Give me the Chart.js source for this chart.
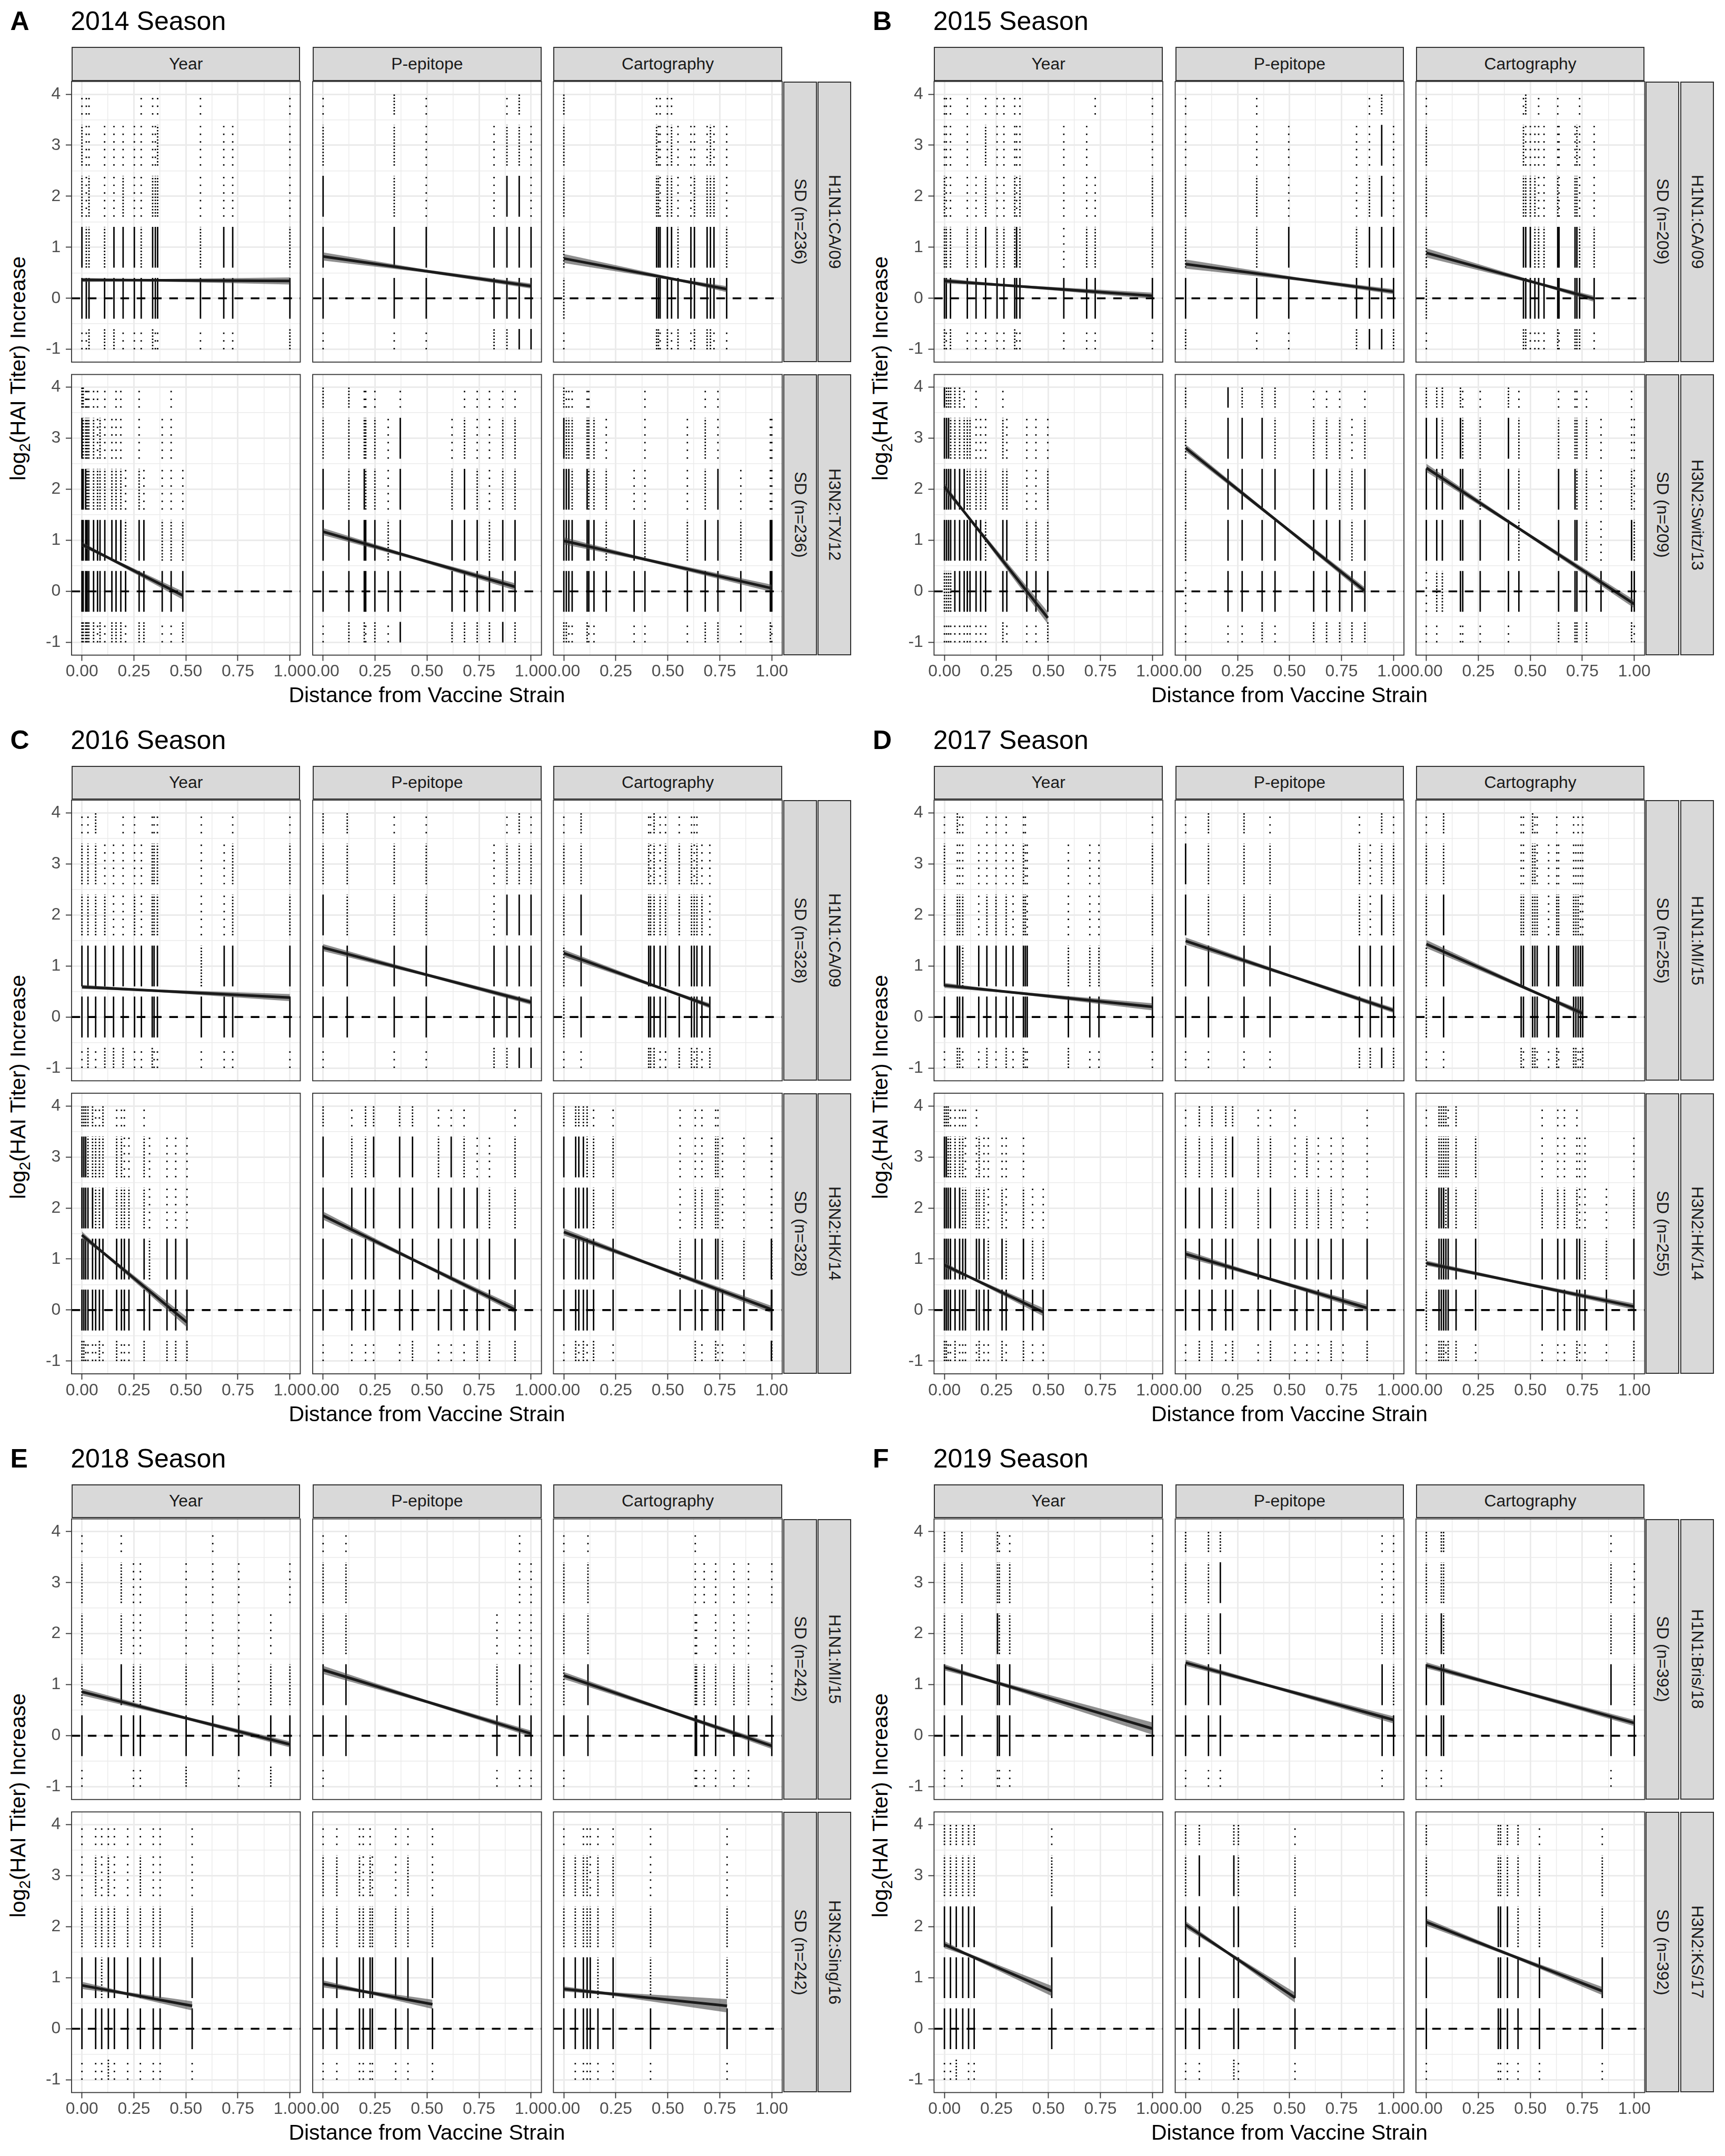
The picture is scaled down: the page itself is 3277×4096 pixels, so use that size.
<!DOCTYPE html>
<html>
<head>
<meta charset="utf-8">
<script src="https://cdn.jsdelivr.net/npm/chart.js@4.4.1/dist/chart.umd.min.js"></script>
<style>
html,body{margin:0;padding:0;background:#ffffff;}
#root{position:relative;width:3277px;height:4096px;overflow:hidden;background:#ffffff;font-family:"Liberation Sans",Arial,Helvetica,sans-serif;}
.abs{position:absolute;white-space:nowrap;}
.strip{position:absolute;box-sizing:border-box;background:#d9d9d9;border:2px solid #333333;display:flex;align-items:center;justify-content:center;color:#1a1a1a;white-space:nowrap;}
.vstrip{writing-mode:vertical-rl;}
canvas{position:absolute;}
</style>
</head>
<body>
<div id="root"></div>
<script>
// ---------------- DATA ----------------
// Each facet: list of [distance from vaccine strain, density code per HAI level band]
// density code order = levels [-1, 0, 1, 2, 3, 4]; 0 none, 1 sparse, 2 moderate, 3 dense
const panelLetters = ["A", "B", "C", "D", "E", "F"];
const seasons = ["2014 Season", "2015 Season", "2016 Season", "2017 Season", "2018 Season", "2019 Season"];
const sampleN = [236, 209, 328, 255, 242, 392];
const h1Strains = ["H1N1:CA/09", "H1N1:CA/09", "H1N1:CA/09", "H1N1:MI/15", "H1N1:MI/15", "H1N1:Bris/18"];
const h3Strains = ["H3N2:TX/12", "H3N2:Switz/13", "H3N2:HK/14", "H3N2:HK/14", "H3N2:Sing/16", "H3N2:KS/17"];
const methods = ["Year", "P-epitope", "Cartography"];
const xTicks = [0, 0.25, 0.5, 0.75, 1];
const xTickLabels = ["0.00", "0.25", "0.50", "0.75", "1.00"];
const yTicks = [-1, 0, 1, 2, 3, 4];
const yTickLabels = ["-1", "0", "1", "2", "3", "4"];
const levelLow = [-1.0, -0.4, 0.6, 1.6, 2.6, 3.6];
const levelHigh = [-0.6, 0.4, 1.4, 2.4, 3.4, 4.0];
const refLineY = 0;

const A_h1_year = [[0,"133221"],[0.021,"132111"],[0.034,"232211"],[0.109,"232110"],[0.154,"233110"],[0.198,"133210"],[0.252,"133110"],[0.285,"132111"],[0.340,"233211"],[0.353,"133210"],[0.364,"133221"],[0.570,"132111"],[0.682,"133110"],[0.725,"133110"],[1.0,"232111"]];
const A_h1_pep = [[0,"133321"],[0.342,"133222"],[0.496,"133111"],[0.822,"233110"],[0.884,"233321"],[0.943,"333322"],[1.0,"333110"]];
const A_h1_cart = [[0,"122222"],[0.446,"233221"],[0.455,"233210"],[0.463,"133111"],[0.498,"233211"],[0.518,"133221"],[0.549,"232110"],[0.611,"133110"],[0.628,"233210"],[0.689,"233210"],[0.705,"233220"],[0.722,"133210"],[0.783,"132110"]];
const A_h3_year = [[0,"233332"],[0.006,"233322"],[0.018,"233321"],[0.025,"233221"],[0.033,"233221"],[0.056,"233221"],[0.075,"133211"],[0.087,"233220"],[0.110,"133211"],[0.144,"233210"],[0.164,"233211"],[0.187,"233211"],[0.210,"132100"],[0.275,"233211"],[0.298,"233100"],[0.386,"132110"],[0.429,"132111"],[0.485,"232100"]];
const A_h3_pep = [[0,"133322"],[0.124,"233222"],[0.198,"233321"],[0.205,"133221"],[0.249,"233221"],[0.313,"132110"],[0.371,"333331"],[0.620,"233210"],[0.680,"233321"],[0.741,"233211"],[0.800,"232111"],[0.864,"333221"],[0.923,"233221"]];
const A_h3_cart = [[0,"233332"],[0.012,"233321"],[0.024,"133321"],[0.040,"133221"],[0.112,"233321"],[0.120,"133221"],[0.145,"133220"],[0.204,"032210"],[0.338,"133100"],[0.390,"132111"],[0.594,"132110"],[0.680,"233221"],[0.741,"233311"],[0.851,"132100"],[0.993,"233110"],[1.0,"133110"]];

const B_h1_year = [[0,"232211"],[0.009,"132111"],[0.029,"232111"],[0.110,"132111"],[0.152,"132100"],[0.198,"133221"],[0.253,"132111"],[0.286,"132111"],[0.338,"232211"],[0.347,"133110"],[0.363,"132211"],[0.574,"131110"],[0.684,"132110"],[0.725,"132101"],[1.0,"132211"]];
const B_h1_pep = [[0,"232211"],[0.342,"132211"],[0.496,"133110"],[0.822,"232110"],[0.884,"333211"],[0.943,"333332"],[1.0,"233110"]];
const B_h1_cart = [[0,"122221"],[0.467,"233221"],[0.478,"233212"],[0.500,"133210"],[0.522,"132210"],[0.540,"132111"],[0.566,"132110"],[0.632,"233211"],[0.638,"133110"],[0.715,"233210"],[0.724,"233220"],[0.737,"232111"],[0.807,"132110"]];
const B_h3_year = [[0,"123333"],[0.010,"123332"],[0.020,"123332"],[0.030,"123322"],[0.050,"133322"],[0.073,"133322"],[0.095,"133321"],[0.110,"133220"],[0.123,"133220"],[0.152,"133211"],[0.174,"133210"],[0.198,"132210"],[0.281,"233221"],[0.300,"133210"],[0.396,"132110"],[0.440,"132110"],[0.497,"232210"]];
const B_h3_pep = [[0,"112222"],[0.204,"133333"],[0.272,"133332"],[0.368,"233332"],[0.430,"133322"],[0.616,"233321"],[0.678,"233321"],[0.741,"233221"],[0.800,"232210"],[0.862,"233321"]];
const B_h3_cart = [[0,"113332"],[0.050,"123332"],[0.077,"023322"],[0.164,"133332"],[0.175,"133321"],[0.259,"133221"],[0.395,"133332"],[0.445,"032221"],[0.636,"233321"],[0.715,"233321"],[0.724,"233221"],[0.770,"232221"],[0.840,"031110"],[0.987,"233211"],[1.0,"132110"]];

const C_h1_year = [[0,"133221"],[0.029,"233221"],[0.066,"133222"],[0.110,"233210"],[0.152,"233110"],[0.198,"233111"],[0.253,"133211"],[0.286,"133110"],[0.338,"233221"],[0.347,"133221"],[0.363,"133221"],[0.574,"132111"],[0.684,"133110"],[0.725,"133221"],[1.0,"133221"]];
const C_h1_pep = [[0,"133322"],[0.116,"033222"],[0.342,"133221"],[0.496,"133221"],[0.822,"233110"],[0.884,"233321"],[0.943,"333322"],[1.0,"333321"]];
const C_h1_cart = [[0,"122221"],[0.083,"133322"],[0.408,"233221"],[0.417,"233211"],[0.434,"233222"],[0.463,"133211"],[0.489,"133221"],[0.555,"233221"],[0.614,"233221"],[0.627,"133211"],[0.640,"233221"],[0.664,"133210"],[0.702,"233110"]];
const C_h3_year = [[0,"233332"],[0.009,"233332"],[0.018,"133332"],[0.029,"133322"],[0.051,"133322"],[0.066,"133221"],[0.084,"233221"],[0.101,"133322"],[0.167,"233221"],[0.190,"133221"],[0.204,"133211"],[0.226,"133210"],[0.299,"233221"],[0.325,"032110"],[0.409,"233110"],[0.451,"233110"],[0.505,"233110"]];
const C_h3_pep = [[0,"133332"],[0.138,"133321"],[0.204,"133322"],[0.243,"133332"],[0.368,"133332"],[0.430,"233332"],[0.555,"133321"],[0.616,"133331"],[0.678,"133321"],[0.741,"233310"],[0.800,"233210"],[0.923,"233221"]];
const C_h3_cart = [[0,"133332"],[0.057,"233332"],[0.072,"133332"],[0.094,"233332"],[0.112,"133322"],[0.143,"233221"],[0.237,"133221"],[0.559,"032111"],[0.632,"233211"],[0.664,"133211"],[0.730,"233221"],[0.741,"133221"],[0.763,"132110"],[0.866,"132110"],[0.998,"333110"],[1.0,"232110"]];

const D_h1_year = [[0,"133221"],[0.062,"233212"],[0.073,"233211"],[0.088,"132211"],[0.165,"133110"],[0.204,"233211"],[0.248,"133211"],[0.297,"233211"],[0.330,"133110"],[0.380,"233221"],[0.389,"133211"],[0.398,"133110"],[0.596,"232110"],[0.699,"132110"],[0.743,"132110"],[1.0,"132221"]];
const D_h1_pep = [[0,"133331"],[0.110,"133222"],[0.281,"133222"],[0.406,"133221"],[0.836,"233221"],[0.888,"233110"],[0.943,"333322"],[1.0,"233221"]];
const D_h1_cart = [[0,"122221"],[0.083,"133322"],[0.456,"233211"],[0.467,"133211"],[0.511,"233222"],[0.522,"233221"],[0.533,"133211"],[0.588,"133110"],[0.627,"233211"],[0.636,"133210"],[0.708,"233211"],[0.719,"233210"],[0.730,"133211"],[0.741,"133110"],[0.752,"233111"]];
const D_h3_year = [[0,"233332"],[0.009,"233332"],[0.018,"133322"],[0.029,"133321"],[0.051,"233321"],[0.073,"133321"],[0.088,"133221"],[0.101,"133211"],[0.154,"133211"],[0.167,"233220"],[0.190,"133210"],[0.211,"132110"],[0.277,"233210"],[0.297,"132110"],[0.380,"233210"],[0.424,"132100"],[0.475,"132100"]];
const D_h3_pep = [[0,"133321"],[0.066,"233322"],[0.127,"233322"],[0.193,"133222"],[0.226,"233332"],[0.349,"133221"],[0.408,"233321"],[0.526,"133211"],[0.583,"133220"],[0.638,"133210"],[0.700,"233210"],[0.757,"133110"],[0.873,"233111"]];
const D_h3_cart = [[0,"122221"],[0.061,"233322"],[0.072,"233322"],[0.083,"233322"],[0.094,"133222"],[0.105,"233321"],[0.143,"233222"],[0.237,"133220"],[0.557,"133211"],[0.632,"133211"],[0.664,"133211"],[0.724,"233211"],[0.737,"133110"],[0.763,"132110"],[0.866,"132100"],[0.998,"233210"]];

const E_h1_year = [[0,"132221"],[0.189,"033221"],[0.248,"132110"],[0.281,"132110"],[0.501,"232110"],[0.629,"032111"],[0.754,"131110"],[0.908,"232100"],[1.0,"032010"]];
const E_h1_pep = [[0,"133221"],[0.110,"033221"],[0.836,"132100"],[0.945,"133111"],[1.0,"131110"]];
const E_h1_cart = [[0,"132221"],[0.116,"033221"],[0.632,"132111"],[0.638,"132100"],[0.675,"132010"],[0.730,"132110"],[0.818,"132110"],[0.888,"132110"],[1.0,"031010"]];
const E_h3_year = [[0,"133211"],[0.066,"133221"],[0.095,"132211"],[0.127,"233221"],[0.156,"133211"],[0.220,"133211"],[0.281,"133221"],[0.343,"133211"],[0.376,"133211"],[0.530,"133211"]];
const E_h3_pep = [[0,"133221"],[0.066,"133221"],[0.175,"133221"],[0.193,"133211"],[0.226,"133221"],[0.237,"133210"],[0.349,"133211"],[0.408,"133221"],[0.526,"133211"]];
const E_h3_cart = [[0,"033221"],[0.055,"133220"],[0.094,"133221"],[0.112,"133221"],[0.127,"133211"],[0.164,"132221"],[0.237,"133221"],[0.417,"132211"],[0.785,"132211"]];

const F_h1_year = [[0,"133222"],[0.084,"133222"],[0.255,"133322"],[0.264,"133221"],[0.314,"133221"],[1.0,"032211"]];
const F_h1_pep = [[0,"133222"],[0.110,"133222"],[0.167,"133332"],[0.945,"133211"],[1.0,"032211"]];
const F_h1_cart = [[0,"133222"],[0.072,"133322"],[0.083,"033222"],[0.888,"133221"],[1.0,"032210"]];
const F_h3_year = [[0,"133322"],[0.029,"133322"],[0.057,"233322"],[0.088,"033322"],[0.116,"133322"],[0.143,"133322"],[0.516,"033321"]];
const F_h3_pep = [[0,"133322"],[0.066,"133332"],[0.232,"233332"],[0.254,"133322"],[0.526,"133221"]];
const F_h3_cart = [[0,"133322"],[0.346,"133322"],[0.357,"133322"],[0.390,"133322"],[0.441,"133222"],[0.544,"133221"],[0.846,"133221"]];

// Linear fits: [x start, y start, x mid, y mid, x end, y end, band half-width start, mid, end]
const A_fits = [[0,0.36,0.3,0.354,1.0,0.34,0.04,0.02,0.07],[0,0.82,0.5,0.53,1.0,0.24,0.08,0.03,0.05],[0,0.78,0.55,0.36,0.783,0.18,0.09,0.025,0.06],[0,0.92,0.12,0.67,0.485,-0.08,0.05,0.025,0.08],[0,1.17,0.45,0.64,0.923,0.09,0.07,0.03,0.07],[0,0.99,0.4,0.618,1.0,0.06,0.07,0.03,0.07]];
const B_fits = [[0,0.34,0.3,0.253,1.0,0.05,0.05,0.02,0.06],[0,0.67,0.55,0.373,1.0,0.13,0.09,0.03,0.05],[0,0.89,0.55,0.277,0.807,-0.01,0.09,0.025,0.06],[0,2.05,0.1,1.533,0.497,-0.52,0.08,0.03,0.12],[0,2.81,0.45,1.348,0.862,0.01,0.07,0.03,0.07],[0,2.42,0.45,1.218,1.0,-0.25,0.08,0.03,0.08]];
const C_fits = [[0,0.59,0.3,0.527,1.0,0.38,0.04,0.02,0.07],[0,1.36,0.5,0.825,1.0,0.29,0.07,0.03,0.05],[0,1.25,0.5,0.516,0.702,0.22,0.07,0.025,0.05],[0,1.47,0.1,1.131,0.505,-0.24,0.07,0.03,0.1],[0,1.85,0.45,0.953,0.923,0.01,0.08,0.03,0.07],[0,1.53,0.4,0.922,1.0,0.01,0.07,0.03,0.07]];
const D_fits = [[0,0.62,0.3,0.494,1.0,0.2,0.05,0.02,0.07],[0,1.49,0.5,0.81,1.0,0.13,0.07,0.03,0.05],[0,1.43,0.55,0.435,0.752,0.07,0.08,0.025,0.06],[0,0.88,0.12,0.648,0.475,-0.04,0.06,0.025,0.08],[0,1.1,0.4,0.614,0.873,0.04,0.07,0.03,0.07],[0,0.92,0.4,0.579,0.998,0.07,0.05,0.025,0.06]];
const E_fits = [[0,0.86,0.5,0.345,1.0,-0.17,0.07,0.03,0.06],[0,1.29,0.5,0.665,1.0,0.04,0.08,0.03,0.06],[0,1.18,0.5,0.49,1.0,-0.2,0.07,0.03,0.06],[0,0.85,0.2,0.699,0.53,0.45,0.07,0.03,0.09],[0,0.88,0.2,0.728,0.526,0.48,0.07,0.03,0.09],[0,0.78,0.2,0.696,0.785,0.45,0.05,0.03,0.13]];
const F_fits = [[0,1.34,0.2,1.1,1.0,0.14,0.06,0.03,0.12],[0,1.43,0.4,0.982,1.0,0.31,0.06,0.03,0.07],[0,1.38,0.4,0.928,1.0,0.25,0.06,0.03,0.06],[0,1.65,0.1,1.474,0.516,0.74,0.07,0.03,0.1],[0,2.04,0.2,1.496,0.526,0.61,0.07,0.03,0.1],[0,2.09,0.4,1.452,0.846,0.74,0.07,0.03,0.08]];

// ---------------- LAYOUT / STYLE ----------------
const S = 3277 / 3600;
const FONT = '"Liberation Sans", Arial, Helvetica, sans-serif';
const X_MIN = -0.05, X_MAX = 1.05, Y_MIN = -1.25, Y_MAX = 4.25;
const X_GRID = [0, 0.125, 0.25, 0.375, 0.5, 0.625, 0.75, 0.875, 1];
const Y_GRID = [-1, -0.5, 0, 0.5, 1, 1.5, 2, 2.5, 3, 3.5, 4];
const PANEL_ORIGINS = [[0, 0], [1800, 0], [0, 1500], [1800, 1500], [0, 3000], [1800, 3000]];
const COL_X = [149.3, 652.6, 1155.0];
const FACET_W = 477.4;
const ROW_Y = [170.0, 781.6];
const FACET_H = 585.7;
const DASH = {3: [], 2: [3, 3.5], 1: [3, 13]};

const panelFacets = [
  [A_h1_year, A_h1_pep, A_h1_cart, A_h3_year, A_h3_pep, A_h3_cart],
  [B_h1_year, B_h1_pep, B_h1_cart, B_h3_year, B_h3_pep, B_h3_cart],
  [C_h1_year, C_h1_pep, C_h1_cart, C_h3_year, C_h3_pep, C_h3_cart],
  [D_h1_year, D_h1_pep, D_h1_cart, D_h3_year, D_h3_pep, D_h3_cart],
  [E_h1_year, E_h1_pep, E_h1_cart, E_h3_year, E_h3_pep, E_h3_cart],
  [F_h1_year, F_h1_pep, F_h1_cart, F_h3_year, F_h3_pep, F_h3_cart]
];
const panelFits = [A_fits, B_fits, C_fits, D_fits, E_fits, F_fits];

const root = document.getElementById('root');

function addText(html, x, baseline, size, opts) {
  opts = opts || {};
  const d = document.createElement('div');
  d.className = 'abs';
  d.innerHTML = html;
  d.style.fontSize = size + 'px';
  d.style.lineHeight = size + 'px';
  d.style.left = x + 'px';
  d.style.top = (baseline - 0.8465 * size) + 'px';
  d.style.color = opts.color || '#000000';
  if (opts.bold) d.style.fontWeight = 'bold';
  if (opts.center) d.style.transform = 'translateX(-50%)';
  root.appendChild(d);
  return d;
}

function addStrip(text, x, y, w, h, vertical) {
  const d = document.createElement('div');
  d.className = 'strip' + (vertical ? ' vstrip' : '');
  d.style.left = (x * S) + 'px';
  d.style.top = (y * S) + 'px';
  d.style.width = (w * S) + 'px';
  d.style.height = (h * S) + 'px';
  d.style.fontSize = (35 * S) + 'px';
  d.style.lineHeight = (35 * S) + 'px';
  d.textContent = text;
  root.appendChild(d);
}

function nearIn(v, arr) { return arr.findIndex(t => Math.abs(t - v) < 1e-9); }

const borderPlugin = {
  id: 'panelBorder',
  afterDraw(chart) {
    const a = chart.chartArea, ctx = chart.ctx;
    ctx.save();
    ctx.strokeStyle = '#333333';
    ctx.lineWidth = 2 * S;
    ctx.strokeRect(a.left, a.top, a.right - a.left, a.bottom - a.top);
    ctx.restore();
  }
};

function pointDatasets(cols) {
  const out = [];
  [3, 2, 1].forEach((code, k) => {
    const data = [];
    cols.forEach(([x, codes]) => {
      for (let L = 0; L < 6; L++) {
        if (Number(codes[L]) === code) {
          data.push({x: x, y: levelLow[L]}, {x: x, y: levelHigh[L]}, {x: x, y: null});
        }
      }
    });
    out.push({
      type: 'line', data: data, spanGaps: false, pointRadius: 0, tension: 0,
      borderColor: '#000000', borderWidth: 3 * S, borderCapStyle: 'butt',
      borderDash: DASH[code].map(v => v * S), fill: false, order: 10 + k
    });
  });
  return out;
}

function fitDatasets(f) {
  const [x0, y0, xm, ym, x1, y1, w0, wm, w1] = f;
  return [
    {type: 'line', data: [{x: x0, y: y0}, {x: x1, y: y1}], pointRadius: 0, tension: 0,
     borderColor: '#1a1a1a', borderWidth: 5.5 * S, fill: false, order: 1},
    {type: 'line', data: [{x: x0, y: y0 + w0}, {x: xm, y: ym + wm}, {x: x1, y: y1 + w1}], pointRadius: 0, tension: 0,
     borderWidth: 0, borderColor: 'rgba(0,0,0,0)', fill: '+1', backgroundColor: 'rgba(70,70,70,0.6)', order: 2},
    {type: 'line', data: [{x: x0, y: y0 - w0}, {x: xm, y: ym - wm}, {x: x1, y: y1 - w1}], pointRadius: 0, tension: 0,
     borderWidth: 0, borderColor: 'rgba(0,0,0,0)', fill: false, order: 3}
  ];
}

function facetChart(px, py, ci, ri, cols, fit) {
  const showY = ci === 0, showX = ri === 1;
  const fL = (px + COL_X[ci]) * S, fR = (px + COL_X[ci] + FACET_W) * S;
  const fT = (py + ROW_Y[ri]) * S, fB = (py + ROW_Y[ri] + FACET_H) * S;
  // generous margins so the library's automatic label padding never moves the plot area
  const cL = Math.floor(fL - (showY ? 64 : 24) * S);
  const cR = Math.ceil(fR + 24 * S);
  const cT = Math.floor(fT - 38 * S);
  const cB = Math.ceil(fB + (showX ? 64 : 38) * S);
  const padL = fL - cL, padR = cR - fR, padT = fT - cT, padB = cB - fB;
  const cv = document.createElement('canvas');
  cv.width = cR - cL; cv.height = cB - cT;
  cv.style.left = cL + 'px'; cv.style.top = cT + 'px';
  cv.style.width = (cR - cL) + 'px'; cv.style.height = (cB - cT) + 'px';
  root.appendChild(cv);

  const hline = {type: 'line', data: [{x: X_MIN, y: refLineY}, {x: X_MAX, y: refLineY}], pointRadius: 0,
    borderColor: '#000000', borderWidth: 4 * S, borderDash: [18 * S, 16 * S], borderCapStyle: 'butt', fill: false, order: 0};

  const datasets = [hline].concat(fitDatasets(fit), pointDatasets(cols));

  new Chart(cv, {
    type: 'line',
    data: {datasets: datasets},
    options: {
      responsive: false, animation: false, devicePixelRatio: 1, events: [],
      layout: {autoPadding: false, padding: {left: showY ? 0 : padL, right: padR, top: padT, bottom: showX ? 0 : padB}},
      plugins: {legend: {display: false}, tooltip: {enabled: false}, title: {display: false}},
      scales: {
        x: {
          type: 'linear', min: X_MIN, max: X_MAX, position: 'bottom',
          afterBuildTicks: sc => { sc.ticks = X_GRID.map(v => ({value: v})); },
          afterFit: sc => { sc.height = showX ? padB : 0; },
          border: {display: false},
          grid: {
            color: '#ebebeb',
            lineWidth: c => (c.tick && nearIn(c.tick.value, xTicks) >= 0) ? 3.2 * S : 1.6 * S,
            drawTicks: showX, tickLength: 12 * S, tickWidth: 2 * S,
            tickColor: c => (c.tick && nearIn(c.tick.value, xTicks) >= 0) ? '#333333' : 'rgba(0,0,0,0)'
          },
          ticks: {
            display: showX, autoSkip: false, maxRotation: 0, minRotation: 0, padding: 2 * S,
            color: '#4d4d4d', font: {family: FONT, size: 35 * S},
            callback: v => { const i = nearIn(v, xTicks); return i >= 0 ? xTickLabels[i] : ''; }
          }
        },
        y: {
          type: 'linear', min: Y_MIN, max: Y_MAX, position: 'left',
          afterBuildTicks: sc => { sc.ticks = Y_GRID.map(v => ({value: v})); },
          afterFit: sc => { sc.width = showY ? padL : 0; },
          border: {display: false},
          grid: {
            color: '#ebebeb',
            lineWidth: c => (c.tick && nearIn(c.tick.value, yTicks) >= 0) ? 3.2 * S : 1.6 * S,
            drawTicks: showY, tickLength: 12 * S, tickWidth: 2 * S,
            tickColor: c => (c.tick && nearIn(c.tick.value, yTicks) >= 0) ? '#333333' : 'rgba(0,0,0,0)'
          },
          ticks: {
            display: showY, autoSkip: false, padding: 10.6 * S,
            color: '#4d4d4d', font: {family: FONT, size: 35 * S},
            callback: v => { const i = nearIn(v, yTicks); return i >= 0 ? yTickLabels[i] : ''; }
          }
        }
      }
    },
    plugins: [borderPlugin]
  });
}

// ---------------- BUILD ----------------
for (let p = 0; p < 6; p++) {
  const [px, py] = PANEL_ORIGINS[p];
  addText(panelLetters[p], (px + 21.5) * S, (py + 63.3) * S, 55 * S, {bold: true});
  addText(seasons[p], (px + 147.5) * S, (py + 63.3) * S, 55 * S);
  for (let c = 0; c < 3; c++) addStrip(methods[c], px + COL_X[c], py + 98.3, FACET_W, 70.5, false);
  const rowLabels = [h1Strains[p], h3Strains[p]];
  for (let r = 0; r < 2; r++) {
    addStrip('SD (n=' + sampleN[p] + ')', px + 1634.4, py + ROW_Y[r], 70.5, FACET_H, true);
    addStrip(rowLabels[r], px + 1706.4, py + ROW_Y[r], 70.5, FACET_H, true);
  }
  for (let r = 0; r < 2; r++) {
    for (let c = 0; c < 3; c++) {
      facetChart(px, py, c, r, panelFacets[p][r * 3 + c], panelFits[p][r * 3 + c]);
    }
  }
  addText('Distance from Vaccine Strain', (px + 890.9) * S, (py + 1466.5) * S, 45 * S, {center: true});
  const yt = document.createElement('div');
  yt.className = 'abs';
  yt.innerHTML = 'log<span style="font-size:0.72em;position:relative;top:0.32em">2</span>(HAI Titer) Increase';
  yt.style.fontSize = (45 * S) + 'px';
  yt.style.lineHeight = (45 * S) + 'px';
  yt.style.left = ((px + 39.4) * S) + 'px';
  yt.style.top = ((py + 768.5) * S) + 'px';
  yt.style.transform = 'translate(-50%,-50%) rotate(-90deg)';
  yt.style.color = '#000000';
  root.appendChild(yt);
}
</script>
</body>
</html>
